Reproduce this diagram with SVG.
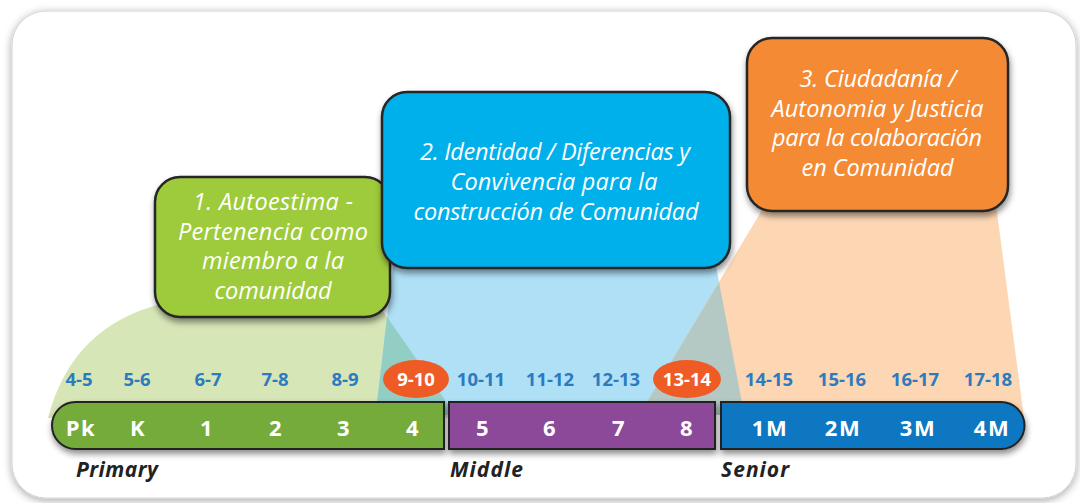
<svg xmlns="http://www.w3.org/2000/svg" width="1080" height="503" viewBox="0 0 1080 503">
<defs>
<filter id="frameShadow" x="-5%" y="-5%" width="110%" height="115%"><feDropShadow dx="0" dy="2" stdDeviation="4" flood-color="#000" flood-opacity="0.35"/></filter>
<filter id="boxShadow" x="-10%" y="-10%" width="125%" height="140%"><feDropShadow dx="1" dy="4" stdDeviation="3" flood-color="#000" flood-opacity="0.45"/></filter>
</defs>
<style>
.box{stroke:#262626;stroke-width:2.5;filter:url(#boxShadow)}
.bar{stroke:#222;stroke-width:2}
.boxtxt{font-family:"Open Sans","Liberation Sans",sans-serif;font-style:italic;font-size:23.5px;fill:#fff;text-anchor:middle}
.age{font-family:"Open Sans","Liberation Sans",sans-serif;font-weight:700;font-size:18.5px;fill:#2c7bc0;text-anchor:middle}
.hl{fill:#fff}
.grade{font-family:"Open Sans","Liberation Sans",sans-serif;font-weight:700;font-size:22px;fill:#fff;text-anchor:middle;letter-spacing:1.5px}
.level{font-family:"Open Sans","Liberation Sans",sans-serif;font-style:italic;font-weight:700;font-size:21px;fill:#222}
</style>
<rect width="1080" height="503" fill="#ffffff"/>
<g id="frame">
<rect x="12" y="11" width="1064" height="487" rx="34" fill="#fff" stroke="#d4d4d4" stroke-width="1" filter="url(#frameShadow)"/>
</g>
<g id="areas">
<path d="M48,418 Q72,325 165,303 L377,303 L457.7,418 Z" fill="#d7e6b6"/>
<path d="M393.4,262 L715.2,262 L744.3,415 L375.6,415 Z" fill="#afe0f6"/>
<path d="M768,200 L995.4,200 L1023.6,415 L639.2,415 Z" fill="#fdd7b4"/>
<path d="M387,317 L455.6,415 L375.6,415 Z" fill="#92cec4"/>
<path d="M719,282 L744.3,415 L639.2,415 Z" fill="#b4c8c4"/>
</g>
<g id="node-autoestima">
<rect class="box" x="155" y="177" width="235" height="140" rx="25" fill="#9ecb3b"/>
<text class="boxtxt" x="273" y="210" textLength="160" lengthAdjust="spacing">1. Autoestima -</text>
<text class="boxtxt" x="273" y="239.5" textLength="190" lengthAdjust="spacing">Pertenencia como</text>
<text class="boxtxt" x="273" y="269" textLength="142" lengthAdjust="spacing">miembro a la</text>
<text class="boxtxt" x="273" y="298.5" textLength="117" lengthAdjust="spacing">comunidad</text>
</g>
<g id="node-identidad">
<rect class="box" x="382" y="92" width="348" height="176" rx="25" fill="#00b0ea"/>
<text class="boxtxt" x="555" y="160" textLength="270" lengthAdjust="spacing">2. Identidad / Diferencias y</text>
<text class="boxtxt" x="554" y="190" textLength="207" lengthAdjust="spacing">Convivencia para la</text>
<text class="boxtxt" x="556" y="220" textLength="285" lengthAdjust="spacing">construcción de Comunidad</text>
</g>
<g id="node-ciudadania">
<rect class="box" x="747" y="38" width="261" height="173" rx="25" fill="#f58a35"/>
<text class="boxtxt" x="878" y="87" textLength="157" lengthAdjust="spacing">3. Ciudadanía /</text>
<text class="boxtxt" x="877.5" y="116.5" textLength="212" lengthAdjust="spacing">Autonomia y Justicia</text>
<text class="boxtxt" x="877" y="146" textLength="210" lengthAdjust="spacing">para la colaboración</text>
<text class="boxtxt" x="877.5" y="175.5" textLength="152" lengthAdjust="spacing">en Comunidad</text>
</g>
<g id="ages">
<ellipse cx="416" cy="379" rx="33" ry="19" fill="#ef5b25"/>
<ellipse cx="687" cy="379" rx="34" ry="19" fill="#ef5b25"/>
<text class="age" x="79" y="386">4-5</text>
<text class="age" x="137" y="386">5-6</text>
<text class="age" x="208" y="386">6-7</text>
<text class="age" x="275" y="386">7-8</text>
<text class="age" x="345" y="386">8-9</text>
<text class="age hl" x="416" y="386">9-10</text>
<text class="age" x="481" y="386">10-11</text>
<text class="age" x="550" y="386">11-12</text>
<text class="age" x="616" y="386">12-13</text>
<text class="age hl" x="687" y="386">13-14</text>
<text class="age" x="769" y="386">14-15</text>
<text class="age" x="842" y="386">15-16</text>
<text class="age" x="915" y="386">16-17</text>
<text class="age" x="988" y="386">17-18</text>
</g>
<g id="bar-primary">
<path class="bar" d="M75.5,402 H444 V449 H75.5 A23.5,23.5 0 0 1 75.5,402 Z" fill="#74ab3a" filter="url(#boxShadow)"/>
<text class="grade" x="81" y="436">Pk</text>
<text class="grade" x="138" y="436">K</text>
<text class="grade" x="207" y="436">1</text>
<text class="grade" x="276" y="436">2</text>
<text class="grade" x="344" y="436">3</text>
<text class="grade" x="413" y="436">4</text>
<text class="level" x="76" y="477" textLength="82" lengthAdjust="spacing">Primary</text>
</g>
<g id="bar-middle">
<rect class="bar" x="449" y="402" width="266" height="47" fill="#8c4a9a" filter="url(#boxShadow)"/>
<text class="grade" x="483" y="436">5</text>
<text class="grade" x="550" y="436">6</text>
<text class="grade" x="619" y="436">7</text>
<text class="grade" x="687" y="436">8</text>
<text class="level" x="450" y="477" textLength="73" lengthAdjust="spacing">Middle</text>
</g>
<g id="bar-senior">
<path class="bar" d="M721,402 H1001 A23.5,23.5 0 0 1 1001,449 H721 Z" fill="#0b77c1" filter="url(#boxShadow)"/>
<text class="grade" x="770" y="436">1M</text>
<text class="grade" x="843" y="436">2M</text>
<text class="grade" x="918" y="436">3M</text>
<text class="grade" x="992" y="436">4M</text>
<text class="level" x="721" y="477" textLength="68" lengthAdjust="spacing">Senior</text>
</g>
</svg>
